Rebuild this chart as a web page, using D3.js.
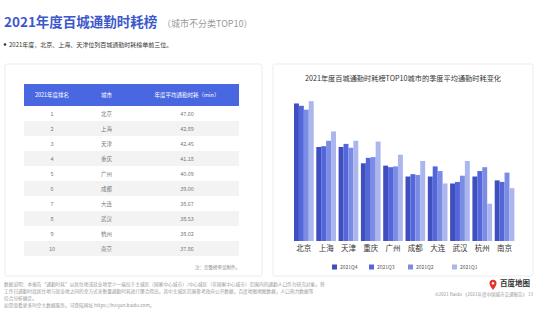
<!DOCTYPE html>
<html>
<head>
<meta charset="utf-8">
<script src="https://cdn.jsdelivr.net/npm/d3@7"></script>
<style>
  html, body { margin: 0; padding: 0; background: #fff; }
  svg { display: block; font-family: "Noto Sans CJK SC", "Noto Sans", sans-serif; }
</style>
</head>
<body>
<div id="chart"></div>
<script>
const W = 540, H = 320;

// ranking table
const ranks = [1, 2, 3, 4, 5, 6, 7, 8, 9, 10];
const cities = ['北京', '上海', '天津', '重庆', '广州', '成都', '大连', '武汉', '杭州', '南京'];
const annualMinutes = ['47.60', '42.89', '42.45', '41.18', '40.09', '39.00', '38.67', '38.53', '38.02', '37.86'];
const tableHeaders = ['2021年度排名', '城市', '年度平均通勤时耗（min）'];

// quarterly values (minutes)
const quarters = ['2021Q4', '2021Q3', '2021Q2', '2021Q1'];
const q4 = [47.8, 42.2, 42.2, 40.1, 39.8, 38.4, 38.4, 37.5, 38.4, 37.9];
const q3 = [47.5, 42.3, 42.6, 40.8, 39.6, 38.7, 39.7, 37.7, 39.1, 37.7];
const q2 = [47.0, 43.0, 42.1, 40.9, 39.7, 38.6, 39.1, 38.5, 39.6, 38.9];
const q1 = [48.1, 44.2, 43.0, 42.9, 41.2, 40.4, 37.5, 40.4, 34.9, 36.9];
const quarterColors = ['#3f4fbf', '#5366da', '#7b8ce4', '#abb6ef'];

const series = [q4, q3, q2, q1];

const svg = d3.select('#chart').append('svg').attr('width', W).attr('height', H);

// page title
svg.append('text')
  .attr('x', 4).attr('y', 27)
  .attr('fill', '#3d58cc')
  .style('font-size', '13.5px')
  .style('font-weight', '700')
  .text('2021年度百城通勤时耗榜');
svg.append('text')
  .attr('x', 162).attr('y', 27)
  .attr('fill', '#9a9a9a')
  .style('font-size', '9px')
  .text('（城市不分类TOP10）');

svg.append('circle').attr('cx', 5).attr('cy', 44.5).attr('r', 1.3).attr('fill', '#333');
svg.append('text')
  .attr('x', 9).attr('y', 46.5)
  .attr('fill', '#333')
  .style('font-size', '6px')
  .text('2021年度，北京、上海、天津位列百城通勤时耗榜单前三位。');

// cards
const cards = [[5, 64, 257, 212], [273, 64, 260, 212]];
svg.selectAll('rect.card')
  .data(cards)
  .join('rect')
  .attr('class', 'card')
  .attr('x', (d) => d[0]).attr('y', (d) => d[1])
  .attr('width', (d) => d[2]).attr('height', (d) => d[3])
  .attr('fill', '#fff')
  .attr('stroke', '#ececec')
  .attr('stroke-width', 1)
  .attr('rx', 2);

// ---- table ----
const tx0 = 24, tx1 = 239;
const headerTop = 84, headerH = 22, rowH = 15;
const colX = [52, 101, 187];

svg.append('rect')
  .attr('x', tx0).attr('y', headerTop)
  .attr('width', tx1 - tx0).attr('height', headerH)
  .attr('fill', '#4a67e2');

svg.selectAll('text.th')
  .data(tableHeaders)
  .join('text')
  .attr('class', 'th')
  .attr('x', (d, i) => colX[i])
  .attr('y', headerTop + headerH / 2 + 2)
  .attr('text-anchor', (d, i) => (i === 1 ? 'start' : 'middle'))
  .attr('fill', '#fff')
  .style('font-size', '5.5px')
  .text((d) => d);

const rowY = d3.scaleBand()
  .domain(ranks)
  .range([headerTop + headerH, headerTop + headerH + rowH * ranks.length]);

svg.selectAll('rect.row')
  .data(ranks)
  .join('rect')
  .attr('class', 'row')
  .attr('x', tx0).attr('y', (d) => rowY(d))
  .attr('width', tx1 - tx0).attr('height', rowY.bandwidth())
  .attr('fill', (d) => (d % 2 === 0 ? '#f3f3f3' : '#fff'));

const rows = svg.selectAll('g.tr')
  .data(ranks)
  .join('g')
  .attr('class', 'tr')
  .attr('transform', (d) => `translate(0, ${rowY(d) + rowY.bandwidth() / 2 + 2})`)
  .style('font-size', '5.5px')
  .attr('fill', '#777');

rows.append('text').attr('x', colX[0]).attr('text-anchor', 'middle').text((d) => d);
rows.append('text').attr('x', colX[1]).attr('text-anchor', 'start').text((d, i) => cities[i]);
rows.append('text').attr('x', colX[2]).attr('text-anchor', 'middle').text((d, i) => annualMinutes[i]);

svg.append('text')
  .attr('x', 240).attr('y', 269)
  .attr('text-anchor', 'end')
  .attr('fill', '#888')
  .style('font-size', '4.5px')
  .text('注：完整榜单见附件。');

// ---- bar chart ----
svg.append('text')
  .attr('x', 403).attr('y', 81)
  .attr('text-anchor', 'middle')
  .attr('fill', '#333')
  .style('font-size', '7.2px')
  .text('2021年度百城通勤时耗榜TOP10城市的季度平均通勤时耗变化');

const x = d3.scaleBand()
  .domain(cities)
  .range([292.7, 515.7])
  .paddingInner(0.117)
  .paddingOuter(0.058);
const xq = d3.scaleBand().domain(quarters).range([0, x.bandwidth()]);
const y = d3.scaleLinear().domain([30.1, 48.5]).range([241, 241 - 18.4 * 7.77]);

const groups = svg.selectAll('g.city')
  .data(cities)
  .join('g')
  .attr('class', 'city')
  .attr('transform', (d) => `translate(${x(d)}, 0)`);

groups.selectAll('rect')
  .data((d, i) => quarters.map((q, k) => ({ q, k, v: series[k][i] })))
  .join('rect')
  .attr('x', (d) => xq(d.q))
  .attr('y', (d) => y(d.v))
  .attr('width', xq.bandwidth())
  .attr('height', (d) => y.range()[0] - y(d.v))
  .attr('fill', (d) => quarterColors[d.k]);

const xAxis = svg.append('g')
  .attr('transform', 'translate(0, 241)')
  .call(d3.axisBottom(x).tickSize(0).tickPadding(5));
xAxis.select('.domain').remove();
xAxis.selectAll('text')
  .attr('fill', '#333')
  .style('font-size', '7.5px')
  .style('font-family', '"Noto Sans CJK SC", sans-serif');

const legendX = [332, 369, 408, 452];
const legend = svg.selectAll('g.legend')
  .data(quarters)
  .join('g')
  .attr('class', 'legend')
  .attr('transform', (d, i) => `translate(${legendX[i]}, 267)`);
legend.append('rect')
  .attr('x', 0).attr('y', -2.5)
  .attr('width', 5).attr('height', 5)
  .attr('fill', (d, i) => quarterColors[i]);
legend.append('text')
  .attr('x', 8).attr('y', 2)
  .attr('fill', '#555')
  .style('font-size', '5px')
  .text((d) => d);

// ---- footer ----
const footerLines = [
  '数据说明：本报告“通勤时耗”以居住地或就业地至少一端位于主城区（国家中心城市）/中心城区（非国家中心城市）范围内的通勤人口作为研究对象。将',
  '工作日通勤时段居住地与就业地之间的全方式来衡量通勤时耗进行聚合得出，其中主城区范围参考政府公开数据，百度地图地图数据，人口热力数据等',
  '综合分析确定。',
  '如需查看更多时空大数据服务，可登陆网址 https://huiyan.baidu.com。'
];
svg.selectAll('text.foot')
  .data(footerLines)
  .join('text')
  .attr('class', 'foot')
  .attr('x', 4)
  .attr('y', (d, i) => 286 + i * 7)
  .attr('fill', '#999')
  .style('font-size', '4.7px')
  .text((d) => d);

// logo
svg.append('path')
  .attr('d', 'M493,290 C490,286 489.5,284.5 489.5,283.3 A3.5,3.5 0 1 1 496.5,283.3 C496.5,284.5 496,286 493,290 Z')
  .attr('fill', '#e2352b');
svg.append('circle').attr('cx', 493).attr('cy', 283.3).attr('r', 1.2).attr('fill', '#fff');
svg.append('text')
  .attr('x', 500).attr('y', 286)
  .attr('fill', '#333')
  .style('font-size', '7.5px')
  .style('font-weight', '700')
  .text('百度地图');
svg.append('text')
  .attr('x', 533).attr('y', 296)
  .attr('text-anchor', 'end')
  .attr('fill', '#999')
  .style('font-size', '4.5px')
  .text('©2021 Baidu 《2021年度中国城市交通报告》 13');
</script>
</body>
</html>
